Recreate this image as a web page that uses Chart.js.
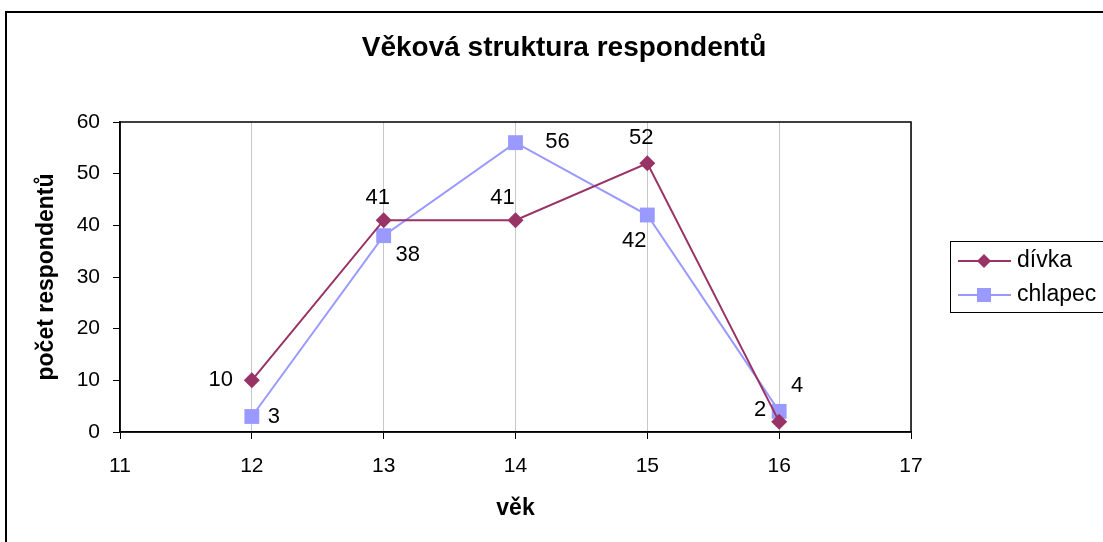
<!DOCTYPE html>
<html>
<head>
<meta charset="utf-8">
<script src="https://cdn.jsdelivr.net/npm/chart.js@4.4.1/dist/chart.umd.min.js"></script>
<style>
html,body{margin:0;padding:0;background:#fff;overflow:hidden;}
#wrap{position:absolute;left:0;top:0;width:1103px;height:542px;}
#frame{position:absolute;left:5px;top:11px;width:1110px;height:560px;border:2px solid #000;box-sizing:border-box;pointer-events:none;}
</style>
</head>
<body>
<div id="wrap"><canvas id="c" width="1103" height="542"></canvas><div id="frame"></div></div>
<script>
const ages = [12, 13, 14, 15, 16];
const divka = [10, 41, 41, 52, 2];
const chlapec = [3, 38, 56, 42, 4];
const seriesNames = ['dívka', 'chlapec'];
const titleText = 'Věková struktura respondentů';
const xTitle = 'věk';
const yTitle = 'počet respondentů';

const FONT = '"Liberation Sans", Arial, sans-serif';
const C1 = '#993366', C2 = '#9999FF';

const labelOffsets = [
  [[-31,0],[-6,-22],[-13,-22],[-6,-25],[-19,-12]],
  [[22,0],[24,19],[42,-1],[-13,26],[18,-25]]
];

const chartTitle = {
  id:'chartTitle',
  afterDraw(chart){
    const ctx = chart.ctx;
    ctx.save();
    ctx.font = 'bold 28px '+FONT; ctx.fillStyle='#000';
    ctx.textAlign='center'; ctx.textBaseline='middle';
    ctx.fillText(titleText, 564, 48);
    ctx.restore();
  }
};
const plotBorder = {
  id:'plotBorder',
  afterDatasetsDraw(chart){
    const {ctx, chartArea:a} = chart;
    ctx.save();
    ctx.strokeStyle='#000'; ctx.lineWidth=1.5;
    ctx.strokeRect(a.left, a.top, a.right-a.left, a.bottom-a.top);
    ctx.restore();
  }
};
const valueLabels = {
  id:'valueLabels',
  afterDatasetsDraw(chart){
    const ctx = chart.ctx;
    ctx.save();
    ctx.font = '22px '+FONT; ctx.fillStyle='#000';
    ctx.textAlign='center'; ctx.textBaseline='middle';
    chart.data.datasets.forEach((ds,i)=>{
      chart.getDatasetMeta(i).data.forEach((pt,j)=>{
        const o = labelOffsets[i][j];
        ctx.fillText(String(ds.data[j].y), pt.x+o[0], pt.y+o[1]);
      });
    });
    ctx.restore();
  }
};
const boxLegend = {
  id:'boxLegend',
  afterDraw(chart){
    const ctx = chart.ctx;
    ctx.save();
    ctx.strokeStyle='#000'; ctx.lineWidth=1;
    ctx.strokeRect(950.5, 241.5, 160, 71);
    const items = [[seriesNames[0], C1, 'diamond', 261],[seriesNames[1], C2, 'square', 295]];
    ctx.font='23px '+FONT; ctx.textBaseline='middle'; ctx.textAlign='left';
    items.forEach(([t,c,s,y])=>{
      ctx.strokeStyle=c; ctx.lineWidth=2;
      ctx.beginPath(); ctx.moveTo(958,y); ctx.lineTo(1011,y); ctx.stroke();
      ctx.fillStyle=c;
      if(s==='diamond'){
        ctx.beginPath(); ctx.moveTo(984,y-7); ctx.lineTo(991,y); ctx.lineTo(984,y+7); ctx.lineTo(977,y); ctx.closePath(); ctx.fill();
      } else {
        ctx.fillRect(977,y-7,14,14);
      }
      ctx.fillStyle='#000';
      ctx.fillText(t, 1017, y);
    });
    ctx.restore();
  }
};

new Chart(document.getElementById('c'), {
  type:'line',
  data:{
    datasets:[
      {label:seriesNames[0], data:ages.map((a,i)=>({x:a,y:divka[i]})), borderColor:C1, backgroundColor:C1,
       borderWidth:2, pointStyle:'rectRot', pointRadius:8, pointBorderWidth:0, pointHoverRadius:8, tension:0},
      {label:seriesNames[1], data:ages.map((a,i)=>({x:a,y:chlapec[i]})), borderColor:C2, backgroundColor:C2,
       borderWidth:2, pointStyle:'rect', pointRadius:10.5, pointBorderWidth:0, pointHoverRadius:10.5, tension:0}
    ]
  },
  options:{
    responsive:false, animation:false,
    layout:{padding:{left:0, right:192, top:122, bottom:0}},
    plugins:{
      legend:{display:false},
      tooltip:{enabled:false},
      title:{display:false}
    },
    scales:{
      x:{type:'linear', min:11, max:17,
        afterFit(s){ s.height = 110; },
        ticks:{stepSize:1, color:'#000', font:{family:FONT, size:21}, padding:15},
        grid:{color:'#c8c8c8', tickColor:'#000', tickLength:7, lineWidth:1},
        border:{color:'#000', width:1.5},
        title:{display:true, text:xTitle, color:'#000', font:{family:FONT, size:23, weight:'bold'}, padding:{top:0, bottom:20}}
      },
      y:{min:0, max:60,
        afterFit(s){ s.width = 120; },
        ticks:{stepSize:10, color:'#000', font:{family:FONT, size:21}, padding:13},
        grid:{drawOnChartArea:false, tickColor:'#000', tickLength:7},
        border:{color:'#000', width:1.5},
        title:{display:true, text:yTitle, color:'#000', font:{family:FONT, size:23, weight:'bold'}, padding:{top:33, bottom:0}}
      }
    }
  },
  plugins:[plotBorder, valueLabels, boxLegend, chartTitle]
});
</script>
</body>
</html>
